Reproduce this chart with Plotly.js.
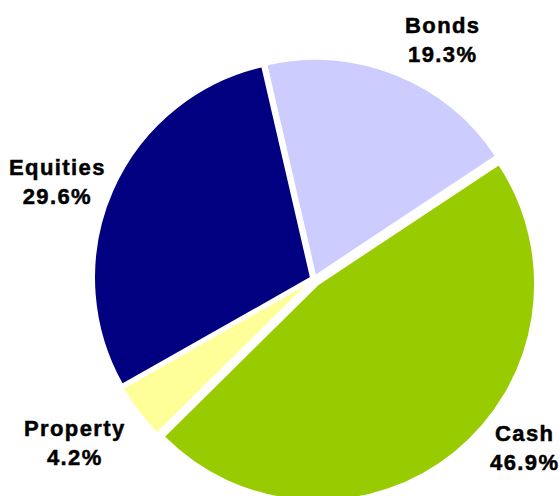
<!DOCTYPE html>
<html>
<head>
<meta charset="utf-8">
<script src="https://cdn.plot.ly/plotly-3.0.1.min.js"></script>
<style>
  html, body { margin: 0; padding: 0; background: #ffffff; overflow: hidden; }
  #chart { width: 560px; height: 503px; }
  .annotation-text { letter-spacing: 1.4px; stroke: #000000; stroke-width: 0.5px; }
</style>
</head>
<body>
<div id="chart"></div>
<script>
// Data
var categories = ["Bonds", "Cash", "Property", "Equities"];
var shares = [19.3, 46.9, 4.2, 29.6];
var sliceColors = ["#CCCCFF", "#99CC00", "#FFFF99", "#000080"];

// Label placement (pixel centres in the frame)
var labelPos = [[442, 40], [524, 448], [75, 443], [57, 182]];

var W = 560, H = 503;

var trace = {
  type: "pie",
  labels: categories,
  values: shares,
  sort: false,
  direction: "clockwise",
  rotation: -13,
  pull: [0.015, 0.03, 0.015, 0.015],
  marker: { colors: sliceColors, line: { color: "#ffffff", width: 2 } },
  textinfo: "none",
  hoverinfo: "label+percent",
  domain: { x: [90.5 / W, 537.5 / W], y: [(H - 502.5) / H, (H - 55.5) / H] }
};

var annotations = categories.map(function (c, i) {
  return {
    xref: "paper", yref: "paper",
    x: labelPos[i][0] / W, y: 1 - labelPos[i][1] / H,
    xanchor: "center", yanchor: "middle",
    showarrow: false,
    text: c + "<br>" + shares[i].toFixed(1) + "%",
    align: "center",
    font: { family: "Liberation Sans, Arial, sans-serif", size: 22, color: "#000000", weight: "bold" }
  };
});

var layout = {
  width: W, height: H,
  margin: { l: 0, r: 0, t: 0, b: 0 },
  paper_bgcolor: "#ffffff",
  showlegend: false,
  annotations: annotations
};

Plotly.newPlot("chart", [trace], layout, { displayModeBar: false, staticPlot: true });
</script>
</body>
</html>
